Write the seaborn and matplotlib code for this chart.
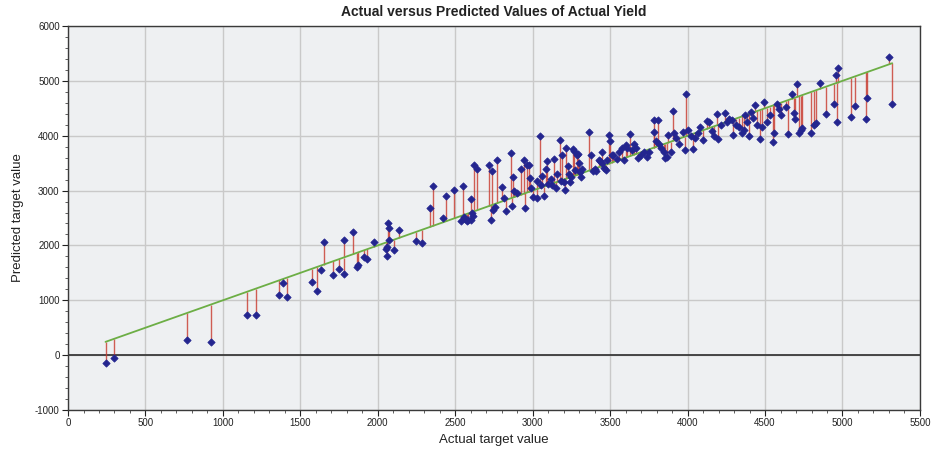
import numpy as np
import pandas as pd
import matplotlib
matplotlib.use("Agg")
import matplotlib.pyplot as plt
from matplotlib.ticker import MultipleLocator
import seaborn as sns

actual = [
    242, 297, 767, 920, 1156, 1213, 1363, 1389, 1415, 1578, 1610, 1631, 1651, 1712, 1751,
    1779, 1783, 1841, 1863, 1873, 1912, 1930, 1977, 2050, 2057, 2061, 2067, 2072, 2074, 2106,
    2138, 2246, 2285, 2335, 2358, 2423, 2438, 2494, 2535, 2550, 2557, 2563, 2575, 2585, 2600,
    2604, 2610, 2615, 2621, 2638, 2718, 2733, 2739, 2745, 2755, 2769, 2802, 2815, 2830, 2858,
    2866, 2875, 2878, 2900, 2926, 2942, 2950, 2965, 2978, 2985, 2990, 3005, 3026, 3030, 3050,
    3054, 3060, 3073, 3086, 3094, 3100, 3116, 3125, 3138, 3150, 3160, 3174, 3180, 3187, 3200,
    3209, 3213, 3225, 3232, 3240, 3245, 3258, 3265, 3270, 3285, 3290, 3300, 3305, 3310, 3320,
    3366, 3375, 3390, 3400, 3410, 3425, 3432, 3445, 3450, 3460, 3470, 3480, 3493, 3500, 3510,
    3520, 3542, 3560, 3575, 3590, 3600, 3610, 3629, 3640, 3655, 3665, 3680, 3700, 3720, 3735,
    3750, 3780, 3780, 3795, 3806, 3815, 3830, 3845, 3855, 3865, 3876, 3890, 3908, 3915, 3925,
    3945, 3973, 3984, 3988, 4000, 4020, 4037, 4050, 4065, 4081, 4102, 4125, 4140, 4155, 4170,
    4188, 4199, 4215, 4242, 4255, 4270, 4286, 4296, 4310, 4330, 4350, 4365, 4371, 4385, 4399,
    4408, 4420, 4436, 4450, 4468, 4480, 4496, 4512, 4530, 4554, 4561, 4576, 4590, 4605, 4636,
    4651, 4673, 4690, 4695, 4705, 4717, 4730, 4738, 4798, 4815, 4826, 4852, 4893, 4942, 4959,
    4964, 4968, 5056, 5078, 5154, 5157, 5300, 5321,
]
predicted = [
    -146, -49, 267, 237, 729, 729, 1093, 1320, 1056, 1327, 1170, 1554, 2058, 1457, 1566,
    1475, 2107, 2246, 1603, 1652, 1798, 1749, 2064, 1931, 1809, 1973, 2410, 2313, 2097, 1913,
    2283, 2089, 2040, 2690, 3091, 2508, 2896, 3005, 2441, 3091, 2520, 2480, 2450, 2470, 2460,
    2841, 2595, 2540, 3473, 3400, 3473, 2470, 3364, 2640, 2700, 3564, 3073, 2860, 2620, 3692,
    2720, 3255, 3000, 2950, 3400, 3558, 2680, 3470, 3470, 3220, 3040, 2880, 2872, 3180, 3990,
    3096, 3260, 2902, 3401, 3534, 3120, 3218, 3100, 3583, 3054, 3300, 3916, 3180, 3643, 3160,
    3005, 3783, 3450, 3300, 3160, 3250, 3765, 3720, 3380, 3640, 3660, 3500, 3330, 3250, 3390,
    4074, 3640, 3360, 3400, 3350, 3560, 3540, 3700, 3500, 3420, 3380, 3560, 4013, 3900, 3640,
    3640, 3583, 3700, 3780, 3560, 3830, 3780, 4025, 3740, 3840, 3780, 3600, 3650, 3700, 3620,
    3700, 4280, 4067, 3900, 4293, 3850, 3780, 3700, 3600, 3620, 4007, 3700, 4450, 4050, 3950,
    3850, 4067, 3747, 4767, 4100, 4000, 3752, 3950, 4050, 4158, 3916, 4270, 4250, 4080, 4000,
    4402, 3947, 4200, 4414, 4250, 4310, 4280, 4007, 4200, 4150, 4050, 4111, 4371, 4250, 3989,
    4432, 4330, 4554, 4200, 3947, 4150, 4614, 4250, 4380, 3885, 4049, 4572, 4480, 4380, 4523,
    4038, 4767, 4420, 4300, 4949, 4050, 4100, 4135, 4056, 4200, 4240, 4960, 4402, 4585, 5113,
    4250, 5233, 4341, 4541, 4305, 4687, 5434, 4578,
]

x_ticks = [0, 500, 1000, 1500, 2000, 2500, 3000, 3500, 4000, 4500, 5000, 5500]
y_ticks = [-1000, 0, 1000, 2000, 3000, 4000, 5000, 6000]

df = pd.DataFrame({"actual": actual, "predicted": predicted})
fit = pd.DataFrame({"actual": [min(actual), max(actual)],
                    "predicted": [min(actual), max(actual)]})

sns.set_style("white")
plt.rcParams["font.family"] = ["Liberation Sans", "DejaVu Sans"]
plt.rcParams["axes.unicode_minus"] = False

fig = plt.figure(figsize=(9.33, 4.51), dpi=100)
ax = fig.add_axes([0.0729, 0.0909, 0.9131, 0.8515])
ax.set_facecolor("#eef0f2")

ax.axhline(0, color="#3a3a3a", lw=1.3, zorder=2)
ax.vlines(df["actual"], df["actual"], df["predicted"], color="#c8382c",
          lw=1.0, alpha=0.8, zorder=3)
sns.lineplot(data=fit, x="actual", y="predicted", color="#6cae45", lw=1.3,
             ax=ax, zorder=4)
sns.scatterplot(data=df, x="actual", y="predicted", marker="D", s=14,
                color="#23258f", edgecolor="#23258f", linewidth=0.5, ax=ax, zorder=5)

ax.set_xlim(0, 5500)
ax.set_ylim(-1000, 6000)
ax.set_xticks(x_ticks)
ax.set_yticks(y_ticks)
ax.xaxis.set_minor_locator(MultipleLocator(100))
ax.yaxis.set_minor_locator(MultipleLocator(200))
ax.grid(True, which="major", color="#c9c9c9", lw=1.0, zorder=0)
ax.set_axisbelow(True)
ax.tick_params(axis="both", which="major", direction="out", length=4, width=0.8,
               labelsize=7, colors="#222222", left=True, bottom=True, pad=2)
ax.tick_params(axis="both", which="minor", direction="out", length=2.5, width=0.6,
               colors="#444444", left=True, bottom=True)
for s in ax.spines.values():
    s.set_color("#3a3a3a")
    s.set_linewidth(1.0)

ax.set_xlabel("Actual target value", fontsize=9.5, color="#222222", labelpad=4)
ax.set_ylabel("Predicted target value", fontsize=9.5, color="#222222", labelpad=8)
ax.set_title("Actual versus Predicted Values of Actual Yield", fontsize=10,
             fontweight="bold", color="#222222", pad=7)

fig.savefig("out.png", dpi=100, facecolor="white")
